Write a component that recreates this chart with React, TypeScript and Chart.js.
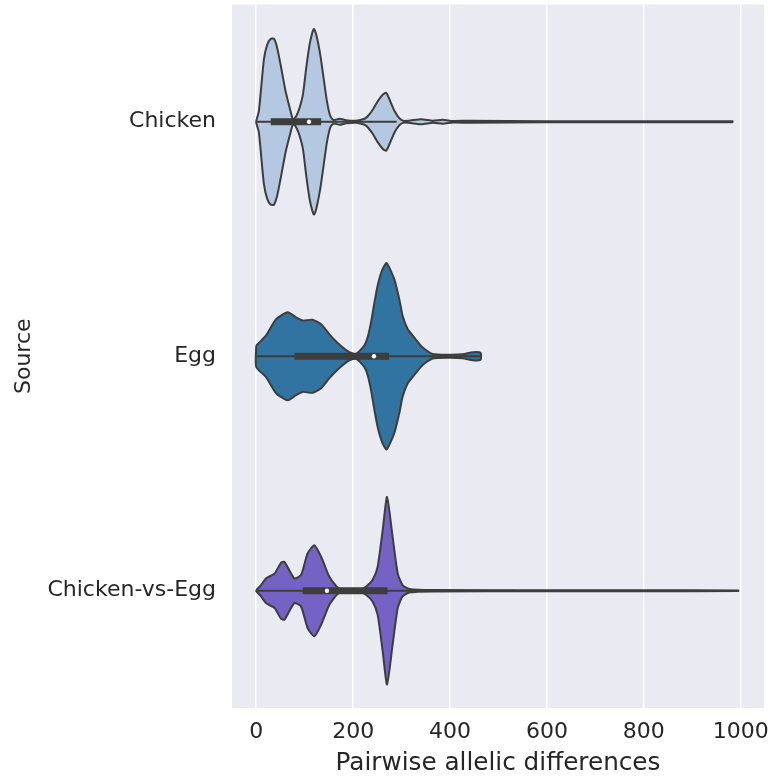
import React, { useEffect, useRef } from "react";
import { Chart, registerables } from "chart.js";
Chart.register(...registerables);

const categories = ["Chicken", "Egg", "Chicken-vs-Egg"];
const xTicks = [0, 200, 400, 600, 800, 1000];

// KDE outline: positions (pairwise differences) and relative density (1 = widest violin)
const chickenPos = [0, 5.5, 15.8, 22.7, 29.6, 36.5, 43.3, 50.2, 60.5, 70.8, 76.3, 82.6, 89.5, 96.4, 103.2, 110.1, 115.6, 119, 123.8, 132.1, 139, 145.9, 152.8, 159.6, 172, 185.7, 206, 223.6, 230.5, 240.8, 251, 261.4, 268.2, 275.1, 285.4, 295.8, 306, 340.5, 364.6, 385, 406, 440, 600, 800, 983];
const chickenDens = [0.01, 0.114, 0.663, 0.822, 0.883, 0.886, 0.787, 0.61, 0.327, 0.114, 0.021, 0.061, 0.149, 0.29, 0.574, 0.822, 0.947, 0.989, 0.929, 0.716, 0.468, 0.22, 0.061, 0.018, 0.032, 0.016, 0.011, 0.032, 0.061, 0.131, 0.22, 0.29, 0.309, 0.237, 0.114, 0.035, 0.008, 0.027, 0.011, 0.021, 0.008, 0.011, 0.005, 0.005, 0.004];

const eggPos = [0, 20, 41, 65, 82, 96, 116, 134, 151, 171, 192, 206, 223, 230, 237, 244, 250.5, 259.5, 269, 285, 295.4, 302, 312.4, 323, 343, 364, 398, 426, 447, 463];
const eggDens = [0.114, 0.22, 0.394, 0.468, 0.415, 0.38, 0.39, 0.34, 0.234, 0.128, 0.043, 0.024, 0.114, 0.202, 0.362, 0.574, 0.752, 0.912, 0.993, 0.819, 0.606, 0.433, 0.29, 0.22, 0.096, 0.024, 0.016, 0.021, 0.043, 0.037];

const cvePos = [0, 10, 20, 38, 51, 58, 68, 79, 92.5, 106, 120, 134, 151, 168, 185, 213, 226.5, 240, 250.5, 261, 270, 281.5, 292, 302, 316, 364, 600, 800, 995];
const cveDens = [0.005, 0.061, 0.131, 0.184, 0.298, 0.309, 0.22, 0.131, 0.167, 0.397, 0.486, 0.362, 0.149, 0.035, 0.007, 0.007, 0.043, 0.114, 0.255, 0.646, 1.0, 0.574, 0.184, 0.061, 0.018, 0.007, 0.005, 0.005, 0.003];

const boxQ1 = [30, 79, 96];
const boxMedian = [109, 243, 146];
const boxQ3 = [134, 274, 271];
const whiskerLow = [0, 0, 0];
const whiskerHigh = [290, 463, 533];

const fillColors = ["#b5c8e1", "#3274a1", "#7462c4"];
const lineColor = "#3d3d3d";

const violinPos = [chickenPos, eggPos, cvePos];
const violinDens = [chickenDens, eggDens, cveDens];

function violinOutline(pos: number[], dens: number[], c: number) {
  const half = 0.4;
  const upper = pos.map((p, i) => ({ x: p, y: c - dens[i] * half }));
  const lower = pos.map((p, i) => ({ x: p, y: c + dens[i] * half })).reverse();
  return [...upper, ...lower, upper[0]];
}

const bgPlugin = {
  id: "bg",
  beforeDraw(chart: any) {
    const { ctx, chartArea } = chart;
    ctx.save();
    ctx.fillStyle = "#eaeaf2";
    ctx.fillRect(chartArea.left, chartArea.top, chartArea.right - chartArea.left, chartArea.bottom - chartArea.top);
    ctx.restore();
  },
};

export default function App() {
  const ref = useRef<HTMLCanvasElement>(null);
  useEffect(() => {
    const datasets: any[] = [];
    categories.forEach((_, c) => {
      datasets.push({
        data: violinOutline(violinPos[c], violinDens[c], c),
        showLine: true,
        fill: "shape",
        backgroundColor: fillColors[c],
        borderColor: lineColor,
        borderWidth: 2,
        tension: 0.2,
        pointRadius: 0,
        order: 3,
      });
      datasets.push({
        data: [{ x: whiskerLow[c], y: c }, { x: whiskerHigh[c], y: c }],
        showLine: true,
        borderColor: lineColor,
        borderWidth: 2,
        pointRadius: 0,
        order: 2,
      });
      datasets.push({
        data: [{ x: boxQ1[c], y: c }, { x: boxQ3[c], y: c }],
        showLine: true,
        borderColor: lineColor,
        borderWidth: 7,
        borderCapStyle: "butt",
        pointRadius: 0,
        order: 1,
      });
      datasets.push({
        data: [{ x: boxMedian[c], y: c }],
        pointRadius: 2.2,
        pointBackgroundColor: "#ffffff",
        pointBorderWidth: 0,
        order: 0,
      });
    });

    const tickFont = { family: "DejaVu Sans", size: 22 };
    const chart = new Chart(ref.current!, {
      type: "scatter",
      data: { datasets },
      plugins: [bgPlugin],
      options: {
        animation: false,
        responsive: false,
        devicePixelRatio: 1,
        layout: { padding: { left: 0, right: 9, top: 4.5, bottom: 0 } },
        plugins: { legend: { display: false }, tooltip: { enabled: false } },
        scales: {
          x: {
            type: "linear",
            min: -50,
            max: 1048,
            afterBuildTicks: (axis: any) => {
              axis.ticks = xTicks.map((v) => ({ value: v }));
            },
            afterFit: (axis: any) => {
              axis.height = 68;
              axis.paddingLeft = 0;
              axis.paddingRight = 0;
            },
            grid: { color: "#ffffff", lineWidth: 1.5, drawTicks: false },
            border: { display: false },
            ticks: {
              font: tickFont,
              color: "#262626",
              padding: 11,
              maxRotation: 0,
              callback: (v: any) => String(v),
            },
            title: {
              display: true,
              text: "Pairwise allelic differences",
              font: { family: "DejaVu Sans", size: 24.7 },
              color: "#262626",
              padding: { top: 0, bottom: -2 },
            },
          },
          y: {
            type: "linear",
            min: -0.5,
            max: 2.5,
            reverse: true,
            afterBuildTicks: (axis: any) => {
              axis.ticks = categories.map((_, i) => ({ value: i }));
            },
            afterFit: (axis: any) => {
              axis.width = 232;
              axis.paddingTop = 0;
              axis.paddingBottom = 0;
            },
            grid: { display: false, drawTicks: false },
            border: { display: false },
            ticks: {
              font: tickFont,
              color: "#262626",
              padding: 16,
              callback: (v: any) => categories[v as number] ?? "",
            },
            title: {
              display: true,
              text: "Source",
              font: { family: "DejaVu Sans", size: 22 },
              color: "#262626",
              padding: { top: 11, bottom: 0 },
            },
          },
        },
      },
    });
    return () => chart.destroy();
  }, []);
  return (
    <div style={{ position: "fixed", left: 0, top: 0, width: 773, height: 776, background: "#ffffff" }}>
      <canvas ref={ref} width={773} height={776} style={{ display: "block" }} />
    </div>
  );
}
